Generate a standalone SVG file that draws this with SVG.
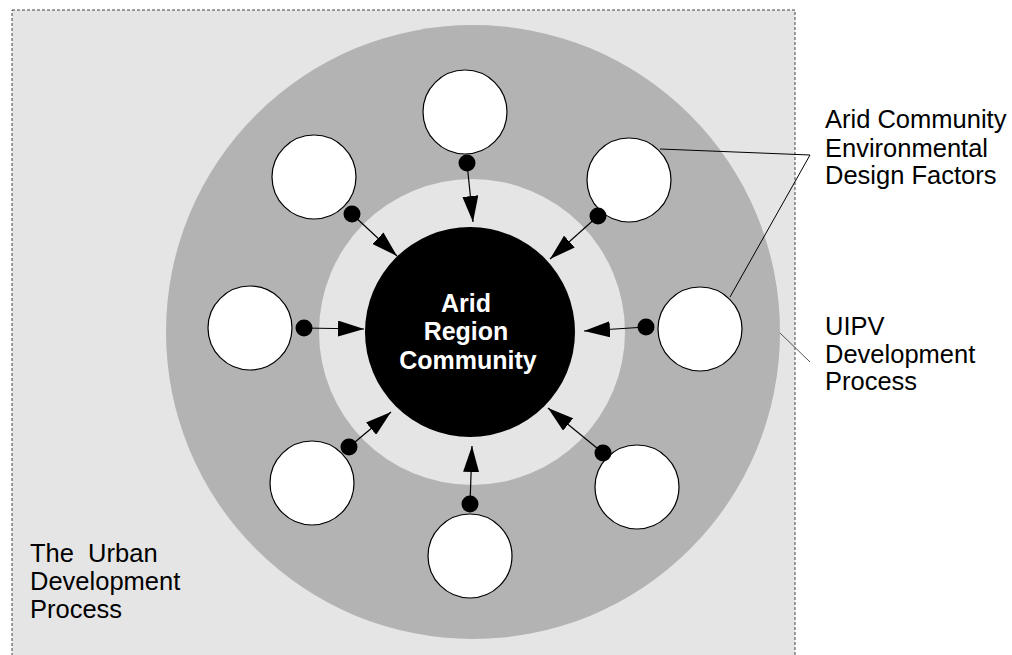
<svg xmlns="http://www.w3.org/2000/svg" width="1012" height="655" viewBox="0 0 1012 655">
  <style>
    .lbl { font-family: "Liberation Sans", Arial, sans-serif; font-size: 25.5px; fill: #000; }
    .core { font-family: "Liberation Sans", Arial, sans-serif; font-size: 25px; font-weight: bold; fill: #fff; text-anchor: middle; }
    .sat { fill: #fff; stroke: #000; stroke-width: 1.2; }
    .dot { fill: #000; }
    .conn { stroke: #000; stroke-width: 1.2; fill: none; marker-end: url(#arr); }
    .lead { stroke: #000; stroke-width: 1; fill: none; }
  </style>
  <defs>
    <marker id="arr" markerUnits="userSpaceOnUse" markerWidth="26" markerHeight="16" refX="26" refY="8" orient="auto">
      <path d="M0,0 L26,8 L0,16 Z" fill="#000"/>
    </marker>
  </defs>

  <g id="urban">
    <rect x="12" y="10" width="783" height="660" fill="#e5e5e5" stroke="#444" stroke-width="1" stroke-dasharray="3,2"/>
    <text class="lbl" x="30" y="562" xml:space="preserve">The  Urban</text>
    <text class="lbl" x="30" y="590">Development</text>
    <text class="lbl" x="30" y="618">Process</text>
  </g>

  <g id="uipv">
    <circle cx="473" cy="332" r="307" fill="#b3b3b3"/>
    <circle cx="472" cy="332" r="153" fill="#e5e5e5"/>
  </g>

  <g id="core">
    <circle cx="470" cy="332" r="105" fill="#000"/>
    <text class="core" x="466" y="312">Arid</text>
    <text class="core" x="466" y="340">Region</text>
    <text class="core" x="468" y="369">Community</text>
  </g>

  <g id="connectors">
    <line class="conn" x1="467" y1="163" x2="473" y2="222"/>
    <line class="conn" x1="598" y1="216" x2="550" y2="259"/>
    <line class="conn" x1="646" y1="327" x2="584" y2="331"/>
    <line class="conn" x1="603" y1="453" x2="548" y2="408"/>
    <line class="conn" x1="470" y1="504" x2="472" y2="446"/>
    <line class="conn" x1="349" y1="447" x2="391" y2="412"/>
    <line class="conn" x1="304" y1="328" x2="364" y2="329"/>
    <line class="conn" x1="352" y1="214" x2="397" y2="256"/>
  </g>

  <g id="factor-top"><circle class="sat" cx="465" cy="112" r="42"/><circle class="dot" cx="467" cy="163" r="8.5"/></g>
  <g id="factor-top-right"><circle class="sat" cx="629" cy="180" r="42"/><circle class="dot" cx="598" cy="216" r="8.5"/></g>
  <g id="factor-right"><circle class="sat" cx="700" cy="329" r="42"/><circle class="dot" cx="646" cy="327" r="8.5"/></g>
  <g id="factor-bottom-right"><circle class="sat" cx="637" cy="487" r="42"/><circle class="dot" cx="603" cy="453" r="8.5"/></g>
  <g id="factor-bottom"><circle class="sat" cx="470" cy="556" r="42"/><circle class="dot" cx="470" cy="504" r="8.5"/></g>
  <g id="factor-bottom-left"><circle class="sat" cx="312" cy="483" r="42"/><circle class="dot" cx="349" cy="447" r="8.5"/></g>
  <g id="factor-left"><circle class="sat" cx="250" cy="328" r="42"/><circle class="dot" cx="304" cy="328" r="8.5"/></g>
  <g id="factor-top-left"><circle class="sat" cx="314" cy="177" r="42"/><circle class="dot" cx="352" cy="214" r="8.5"/></g>

  <g id="label-factors">
    <polyline class="lead" points="660,149 810,155 730,297"/>
    <text class="lbl" x="825" y="128">Arid Community</text>
    <text class="lbl" x="825" y="157">Environmental</text>
    <text class="lbl" x="825" y="184">Design Factors</text>
  </g>

  <g id="label-uipv">
    <line x1="780" y1="333" x2="810" y2="362" stroke="#555" stroke-width="1"/>
    <text class="lbl" x="825" y="335">UIPV</text>
    <text class="lbl" x="825" y="363">Development</text>
    <text class="lbl" x="825" y="390">Process</text>
  </g>
</svg>
